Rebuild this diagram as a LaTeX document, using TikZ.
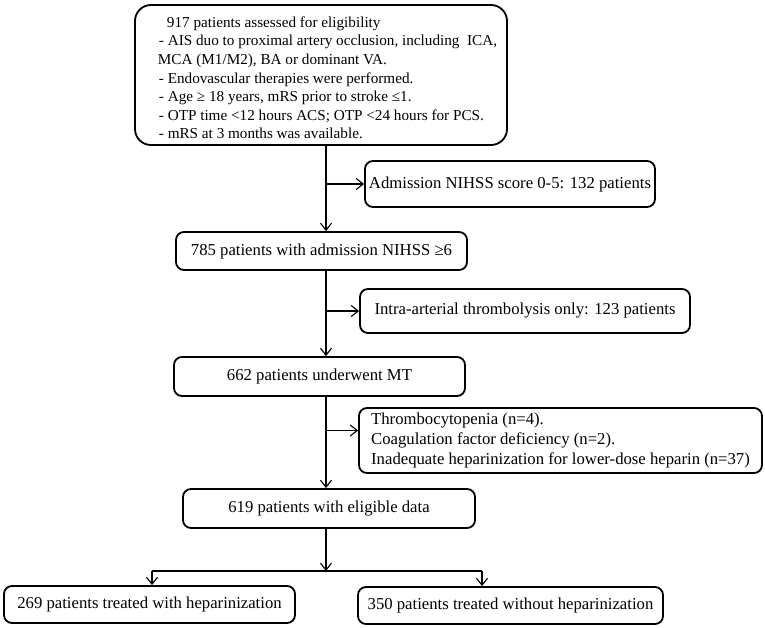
\documentclass[tikz,border=0pt]{standalone}
\usepackage{fontspec}
\setmainfont{Liberation Serif}
\usepackage{tikz}
\usetikzlibrary{arrows.meta, positioning, calc}

\begin{document}
\begin{tikzpicture}[
    x=1pt, y=-1pt,
    box/.style={rectangle, rounded corners=8pt, draw=black, line width=1.8pt, inner sep=3pt, font=\fontsize{16.7}{20}\selectfont},
    bigbox/.style={box, rounded corners=16pt, align=left, font=\fontsize{15.2}{18.6}\selectfont},
    arrow/.style={-{Straight Barb[length=7pt, width=11pt]}, line width=1.1pt},
    link/.style={line width=1.1pt}
]
\useasboundingbox (0,0) rectangle (765,627);

% Eligibility criteria
\node[bigbox, minimum width=372pt, minimum height=140pt] (elig) at (321,75)
    {\rule{0pt}{16.5pt}\hspace*{22pt}917 patients assessed for eligibility\\
     \hspace*{14pt}- AIS duo to proximal artery occlusion, including~ ICA,\\
     \hspace*{13pt}MCA (M1/M2), BA or dominant VA.\\
     \hspace*{14pt}- Endovascular therapies were performed.\\
     \hspace*{14pt}- Age ≥ 18 years, mRS prior to stroke ≤1.\\
     \hspace*{14pt}- OTP time <12 hours ACS; OTP <24 hours for PCS.\\
     \hspace*{14pt}- mRS at 3 months was available.};

% Main flow
\node[box, minimum width=291pt, minimum height=38pt] (nihss) at (321.5,251) {785 patients with admission NIHSS ≥6};
\node[box, minimum width=291pt, minimum height=39pt] (mt) at (319.5,376.5) {662 patients underwent MT};
\node[box, minimum width=292pt, minimum height=39pt] (eligible) at (329,508.5) {619 patients with eligible data};

% Exclusions
\node[box, minimum width=290pt, minimum height=46pt] (excl1) at (510,184) {Admission NIHSS score 0-5: 132 patients};
\node[box, minimum width=330pt, minimum height=44pt] (excl2) at (525,311) {Intra-arterial thrombolysis only: 123 patients};
\node[box, minimum width=403pt, minimum height=65pt, align=left] (excl3) at (560.5,440.5)
    {Thrombocytopenia (n=4).\\
     Coagulation factor deficiency (n=2).\\
     Inadequate heparinization for lower-dose heparin (n=37)};

% Groups
\node[box, minimum width=291pt, minimum height=37pt] (hep) at (149.5,604.5) {269 patients treated with heparinization};
\node[box, minimum width=305pt, minimum height=37pt] (nohep) at (510.5,605.5) {350 patients treated without heparinization};

% Spine and split points
\coordinate (spine) at (326,0);
\coordinate (excl3in) at ([yshift=10pt]excl3.west);
\coordinate (split) at (326,571);
\coordinate (splitL) at (152,571);
\coordinate (splitR) at (482,571);

\draw[arrow] (elig.south -| spine) -- (nihss.north -| spine);
\draw[arrow] (spine |- excl1.west) -- (excl1.west);
\draw[arrow] (nihss.south -| spine) -- (mt.north -| spine);
\draw[arrow] (spine |- excl2.west) -- (excl2.west);
\draw[arrow] (mt.south -| spine) -- (eligible.north -| spine);
\draw[arrow] (spine |- excl3in) -- (excl3in);
\draw[arrow] (eligible.south -| spine) -- (split);
\draw[link] (splitL) -- (splitR);
\draw[arrow] (splitL) -- (hep.north -| splitL);
\draw[arrow] (splitR) -- (nohep.north -| splitR);

\end{tikzpicture}
\end{document}
